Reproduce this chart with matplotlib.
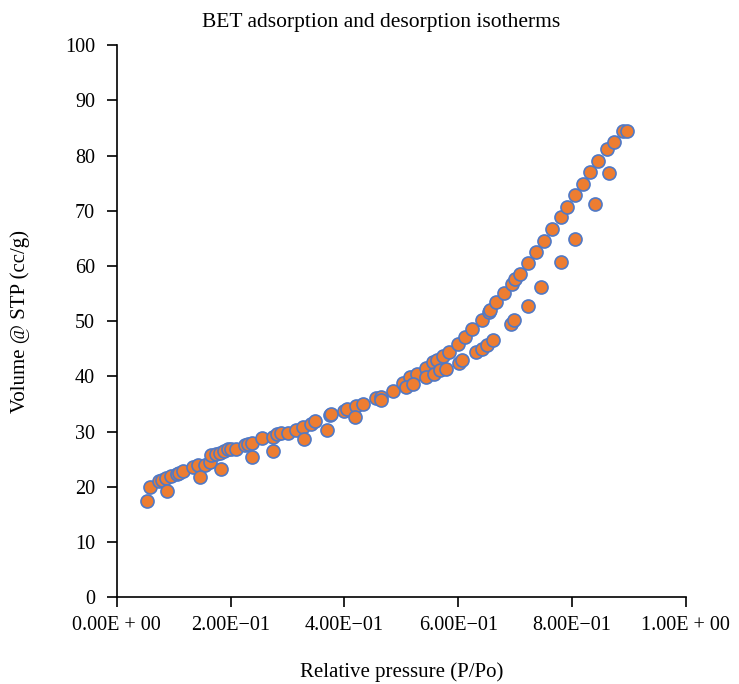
import matplotlib
matplotlib.use('Agg')
import matplotlib.pyplot as plt
from matplotlib.ticker import FuncFormatter

# upper (dense) branch
p_up = [0.058, 0.074, 0.080, 0.086, 0.096, 0.105, 0.109, 0.117, 0.134, 0.143,
        0.155, 0.163, 0.166, 0.174, 0.181, 0.189, 0.196, 0.201, 0.210, 0.225,
        0.231, 0.238, 0.256, 0.275, 0.281, 0.289, 0.301, 0.315, 0.327, 0.342,
        0.348, 0.374, 0.377, 0.399, 0.405, 0.420, 0.432, 0.456, 0.465, 0.486,
        0.503, 0.516, 0.527, 0.543, 0.556, 0.562, 0.573, 0.583, 0.600, 0.612,
        0.625, 0.641, 0.654, 0.656, 0.667, 0.681, 0.695, 0.699, 0.708, 0.722,
        0.737, 0.750, 0.764, 0.780, 0.791, 0.806, 0.820, 0.831, 0.846, 0.862,
        0.874, 0.889, 0.896]
v_up = [20.0, 21.0, 21.2, 21.5, 21.9, 22.3, 22.5, 22.9, 23.6, 23.9,
        23.9, 24.5, 25.7, 25.9, 26.1, 26.5, 26.8, 26.9, 26.8, 27.5,
        27.8, 28.0, 28.8, 29.1, 29.5, 29.8, 29.8, 30.2, 30.8, 31.3,
        31.9, 33.0, 33.2, 33.8, 34.0, 34.6, 35.0, 36.0, 36.3, 37.3,
        38.8, 39.8, 40.4, 41.6, 42.6, 42.9, 43.7, 44.4, 45.8, 47.2,
        48.5, 50.2, 51.7, 52.0, 53.4, 55.1, 56.8, 57.7, 58.6, 60.6,
        62.6, 64.6, 66.7, 68.8, 70.7, 72.8, 74.9, 77.0, 79.1, 81.1,
        82.5, 84.5, 84.5]

# lower (sparse) branch
p_low = [0.053, 0.088, 0.146, 0.184, 0.238, 0.275, 0.329, 0.370, 0.418, 0.465,
         0.509, 0.521, 0.544, 0.557, 0.568, 0.578, 0.602, 0.607, 0.631, 0.641,
         0.650, 0.661, 0.692, 0.698, 0.722, 0.746, 0.780, 0.806, 0.840, 0.865]
v_low = [17.4, 19.3, 21.7, 23.2, 25.3, 26.5, 28.6, 30.3, 32.6, 35.8,
         38.1, 38.7, 39.9, 40.5, 41.1, 41.4, 42.4, 42.9, 44.4, 44.9,
         45.7, 46.6, 49.5, 50.2, 52.7, 56.1, 60.7, 64.9, 71.3, 76.9]

plt.rcParams['font.family'] = ['Liberation Serif', 'DejaVu Serif']

fig = plt.figure(figsize=(7.39, 6.84), dpi=100)
ax = fig.add_axes([0.158, 0.127, 0.770, 0.807])

for xs, ys in [(p_up, v_up), (p_low, v_low)]:
    ax.scatter(xs, ys, s=88, color='#ED7D31', edgecolors='#5079C6',
               linewidths=1.2, zorder=3, clip_on=False)

ax.set_xlim(0, 1.0)
ax.set_ylim(0, 100)
ax.set_xticks([0, 0.2, 0.4, 0.6, 0.8, 1.0])
ax.set_yticks(range(0, 101, 10))

def sci(v, pos):
    s = '%.2E' % v
    m, e = s.split('E')
    if e[0] == '+':
        return '%sE + %s' % (m, e[1:])
    return '%sE\u2212%s' % (m, e[1:])

ax.xaxis.set_major_formatter(FuncFormatter(sci))

for side in ['top', 'right']:
    ax.spines[side].set_visible(False)
ax.spines['left'].set_linewidth(1.2)
ax.spines['bottom'].set_linewidth(1.2)
ax.tick_params(direction='out', length=7.5, width=1.2, labelsize=14.5)
ax.tick_params(axis='y', pad=8)
ax.tick_params(axis='x', pad=6)

fig.text(381 / 739, 1 - 26.7 / 684, 'BET adsorption and desorption isotherms',
         fontsize=15.5, ha='center', va='baseline')
ax.set_xlabel('Relative pressure (P/Po)', fontsize=15, labelpad=20)
fig.text(20 / 739, 0.5 + 0.127 / 2 - 0.066 / 2, 'Volume @ STP (cc/g)',
         fontsize=15, rotation=90, ha='center', va='center')

fig.savefig('out.png', dpi=100)
